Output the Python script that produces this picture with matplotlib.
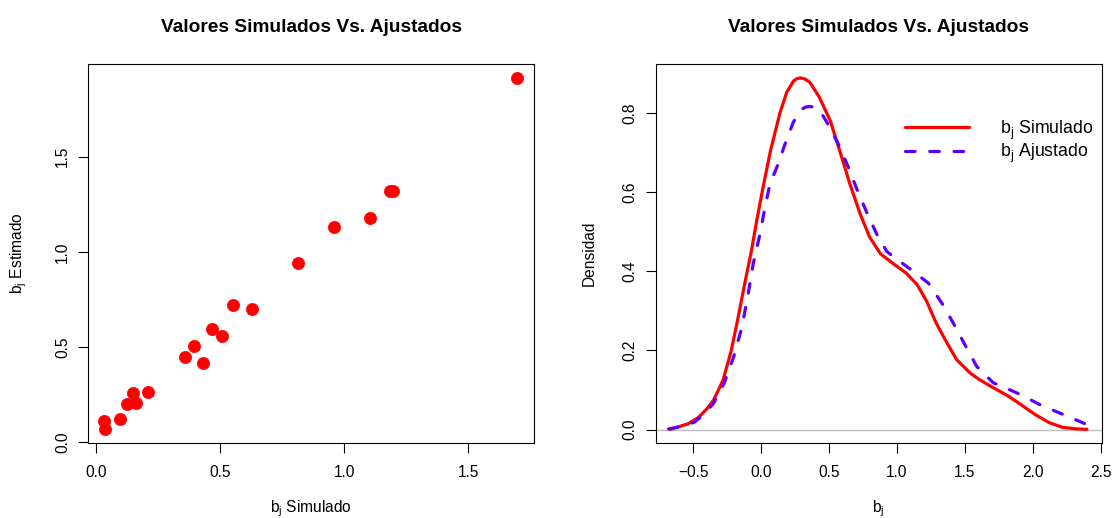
import matplotlib
matplotlib.use("Agg")
import matplotlib.pyplot as plt

plt.rcParams['font.family'] = ['Liberation Sans', 'DejaVu Sans']
plt.rcParams['mathtext.default'] = 'regular'
plt.rcParams['axes.unicode_minus'] = True

# scatter: simulated vs estimated b_j
b_sim = [1.697, 1.185, 1.195, 1.102, 0.957, 0.814, 0.551, 0.629, 0.468, 0.505,
         0.394, 0.356, 0.429, 0.208, 0.148, 0.125, 0.161, 0.097, 0.032, 0.036]
b_est = [1.912, 1.319, 1.319, 1.178, 1.132, 0.944, 0.719, 0.700, 0.596, 0.557,
         0.507, 0.449, 0.418, 0.266, 0.261, 0.200, 0.207, 0.123, 0.115, 0.071]

# density curves
dens_sim_x = [-0.67, -0.61, -0.535, -0.46, -0.40, -0.35, -0.28, -0.22, -0.17, -0.12,
              -0.07, -0.03, 0.02, 0.07, 0.14, 0.19, 0.24, 0.265, 0.29, 0.325,
              0.36, 0.43, 0.51, 0.58, 0.655, 0.73, 0.80, 0.88, 0.97, 1.07,
              1.15, 1.22, 1.29, 1.37, 1.44, 1.54, 1.61, 1.70, 1.82, 1.92,
              2.02, 2.12, 2.22, 2.32, 2.40]
dens_sim_y = [0.001, 0.007, 0.015, 0.031, 0.052, 0.074, 0.124, 0.198, 0.280, 0.368,
              0.452, 0.530, 0.620, 0.704, 0.800, 0.852, 0.880, 0.886, 0.888, 0.885,
              0.877, 0.839, 0.780, 0.704, 0.620, 0.545, 0.486, 0.444, 0.420, 0.395,
              0.366, 0.324, 0.269, 0.219, 0.177, 0.143, 0.126, 0.108, 0.085, 0.062,
              0.038, 0.018, 0.006, 0.002, 0.001]

dens_est_x = [-0.68, -0.58, -0.49, -0.43, -0.35, -0.27, -0.20, -0.14, -0.094, -0.057,
              -0.007, 0.03, 0.066, 0.127, 0.177, 0.238, 0.287, 0.325, 0.36, 0.40,
              0.434, 0.508, 0.569, 0.643, 0.705, 0.778, 0.852, 0.926, 1.0, 1.073,
              1.15, 1.232, 1.331, 1.416, 1.502, 1.588, 1.711, 1.772, 1.895, 2.067,
              2.214, 2.386, 2.42]
dens_est_y = [0.002, 0.008, 0.019, 0.036, 0.066, 0.118, 0.185, 0.259, 0.343, 0.419,
              0.494, 0.562, 0.620, 0.671, 0.721, 0.776, 0.805, 0.814, 0.816, 0.813,
              0.805, 0.763, 0.721, 0.663, 0.608, 0.549, 0.494, 0.450, 0.430, 0.412,
              0.392, 0.370, 0.320, 0.269, 0.214, 0.160, 0.118, 0.110, 0.091, 0.061,
              0.040, 0.015, 0.010]

left_ticks = [0.0, 0.5, 1.0, 1.5]
right_xticks = [-0.5, 0.0, 0.5, 1.0, 1.5, 2.0, 2.5]
right_yticks = [0.0, 0.2, 0.4, 0.6, 0.8]

title = "Valores Simulados Vs. Ajustados"
fs = 11.2

fig = plt.figure(figsize=(11.14, 5.18), dpi=100)
ax1 = fig.add_axes([0.0790, 0.1448, 0.4004, 0.7316])
ax2 = fig.add_axes([0.5886, 0.1448, 0.4004, 0.7316])


def fmt(v):
    return ("%.1f" % v).replace("-", "\u2212")


def style(ax):
    for s in ax.spines.values():
        s.set_linewidth(0.8)
        s.set_color("black")
    ax.tick_params(direction="out", length=7, width=0.8, labelsize=fs)
    ax.tick_params(axis="x", pad=9)
    ax.tick_params(axis="y", labelrotation=90, pad=6)
    for lab in ax.get_yticklabels():
        lab.set_va("center")
    ax.set_title(title, fontsize=13.8, fontweight="bold", pad=23)


# left: scatter
ax1.plot(b_sim, b_est, "o", color="red", ms=8.8, mec="red", mew=0.5)
ax1.set_xlim(-0.034, 1.765)
ax1.set_ylim(-0.003, 1.986)
ax1.set_xticks(left_ticks, [fmt(v) for v in left_ticks])
ax1.set_yticks(left_ticks, [fmt(v) for v in left_ticks])
ax1.set_xlabel("b$_j$ Simulado", fontsize=fs, labelpad=13)
ax1.set_ylabel("b$_j$ Estimado", fontsize=fs, labelpad=19)
style(ax1)

# right: densities
ax2.axhline(0, color="#BEBEBE", lw=1.0, zorder=1)
ax2.plot(dens_sim_x, dens_sim_y, color="red", lw=2.3, solid_capstyle="round",
         solid_joinstyle="round", label="b$_j$ Simulado")
ax2.plot(dens_est_x, dens_est_y, color="#5A00FF", lw=2.3, dashes=(3.0, 4.6),
         dash_capstyle="round", label="b$_j$ Ajustado")
ax2.set_xlim(-0.775, 2.509)
ax2.set_ylim(-0.0336, 0.923)
ax2.set_xticks(right_xticks, [fmt(v) for v in right_xticks])
ax2.set_yticks(right_yticks, [fmt(v) for v in right_yticks])
ax2.set_xlabel("b$_j$", fontsize=fs, labelpad=13)
ax2.set_ylabel("Densidad", fontsize=fs, labelpad=19)
style(ax2)
ax2.legend(loc="upper right", bbox_to_anchor=(0.997, 0.875), frameon=False,
           fontsize=12.8, handlelength=3.6, handletextpad=1.75,
           labelspacing=0.0, borderaxespad=0)

fig.savefig("out.png", dpi=100)
